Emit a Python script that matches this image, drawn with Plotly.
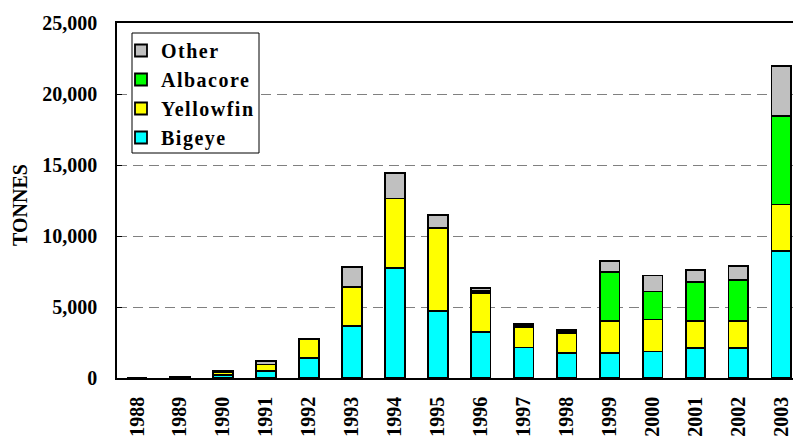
import plotly.graph_objects as go

years = ["1988", "1989", "1990", "1991", "1992", "1993", "1994", "1995",
         "1996", "1997", "1998", "1999", "2000", "2001", "2002", "2003"]
bigeye = [0, 60, 200, 480, 1400, 3660, 7760, 4720, 3240, 2150, 1770, 1750, 1860, 2140, 2140, 8920]
yellowfin = [0, 40, 250, 470, 1370, 2760, 4880, 5820, 2750, 1450, 1410, 2250, 2260, 1860, 1860, 3300]
albacore = [0, 0, 0, 0, 0, 0, 0, 0, 150, 100, 100, 3440, 1970, 2780, 2920, 6240]
other = [0, 0, 60, 220, 0, 1370, 1790, 960, 190, 90, 90, 820, 1130, 820, 970, 3500]

series = [("Bigeye", bigeye, "#00FFFF"),
          ("Yellowfin", yellowfin, "#FFFF00"),
          ("Albacore", albacore, "#00FF00"),
          ("Other", other, "#C0C0C0")]

FONT = "Liberation Serif, Times New Roman, serif"

fig = go.Figure()
for name, vals, col in series:
    fig.add_trace(go.Bar(
        x=years, y=vals, name=name, width=0.46,
        marker=dict(color=col, line=dict(color="black", width=1.8)),
    ))

# plot area in pixels: x 117..793, y 23..378
def px_x(p):
    return (p - 117) / 676.0

def px_y(p):
    return (378 - p) / 355.0

fig.update_layout(
    width=793, height=439,
    barmode="stack",
    plot_bgcolor="white", paper_bgcolor="white",
    margin=dict(l=117, r=0, t=23, b=61, autoexpand=False),
    font=dict(family=FONT, size=19, color="black"),
    showlegend=True,
    legend=dict(
        x=px_x(121), y=px_y(31), xanchor="left", yanchor="top",
        traceorder="reversed",
        bgcolor="rgba(0,0,0,0)", borderwidth=0,
        font=dict(family=FONT, size=20, color="black", weight="bold"),
        itemwidth=30,
    ),
    shapes=[dict(
        type="rect", xref="paper", yref="paper", layer="above",
        x0=px_x(132), x1=px_x(259), y0=px_y(153), y1=px_y(33),
        line=dict(color="black", width=1), fillcolor="white",
    )],
    xaxis=dict(
        type="category", range=[-0.466, 15.27],
        tickangle=-90, ticks="", ticklabelstandoff=9,
        tickfont=dict(family=FONT, size=20, weight="bold"),
        showline=True, linecolor="black", linewidth=1.5, mirror=True,
        showgrid=False, automargin=False,
    ),
    yaxis=dict(
        range=[0, 25000], dtick=5000, tickformat=",d",
        ticks="inside", ticklen=5, tickcolor="black",
        ticklabelstandoff=14,
        tickfont=dict(family=FONT, size=20, weight="bold"),
        showline=True, linecolor="black", linewidth=1.5, mirror=True,
        showgrid=True, gridcolor="#808080", gridwidth=1, griddash="10px,6px",
        zeroline=False, automargin=False,
    ),
    annotations=[dict(
        text="<b>TONNES</b>", textangle=-90,
        xref="paper", yref="paper", x=px_x(20), y=px_y(205),
        xanchor="center", yanchor="middle", showarrow=False,
        font=dict(family=FONT, size=20, color="black"),
    )],
)

post = (
    "document.body.style.margin='0';"
    "document.body.style.padding='0';"
    "document.querySelectorAll('.legendtext').forEach(function(e){e.style.letterSpacing='1.5px';});"
    "document.querySelectorAll('.legend .scrollbox, .legend').forEach(function(e){e.removeAttribute('clip-path');});"
)

fig.write_html("out.html", post_script=post, config={"displayModeBar": False})
